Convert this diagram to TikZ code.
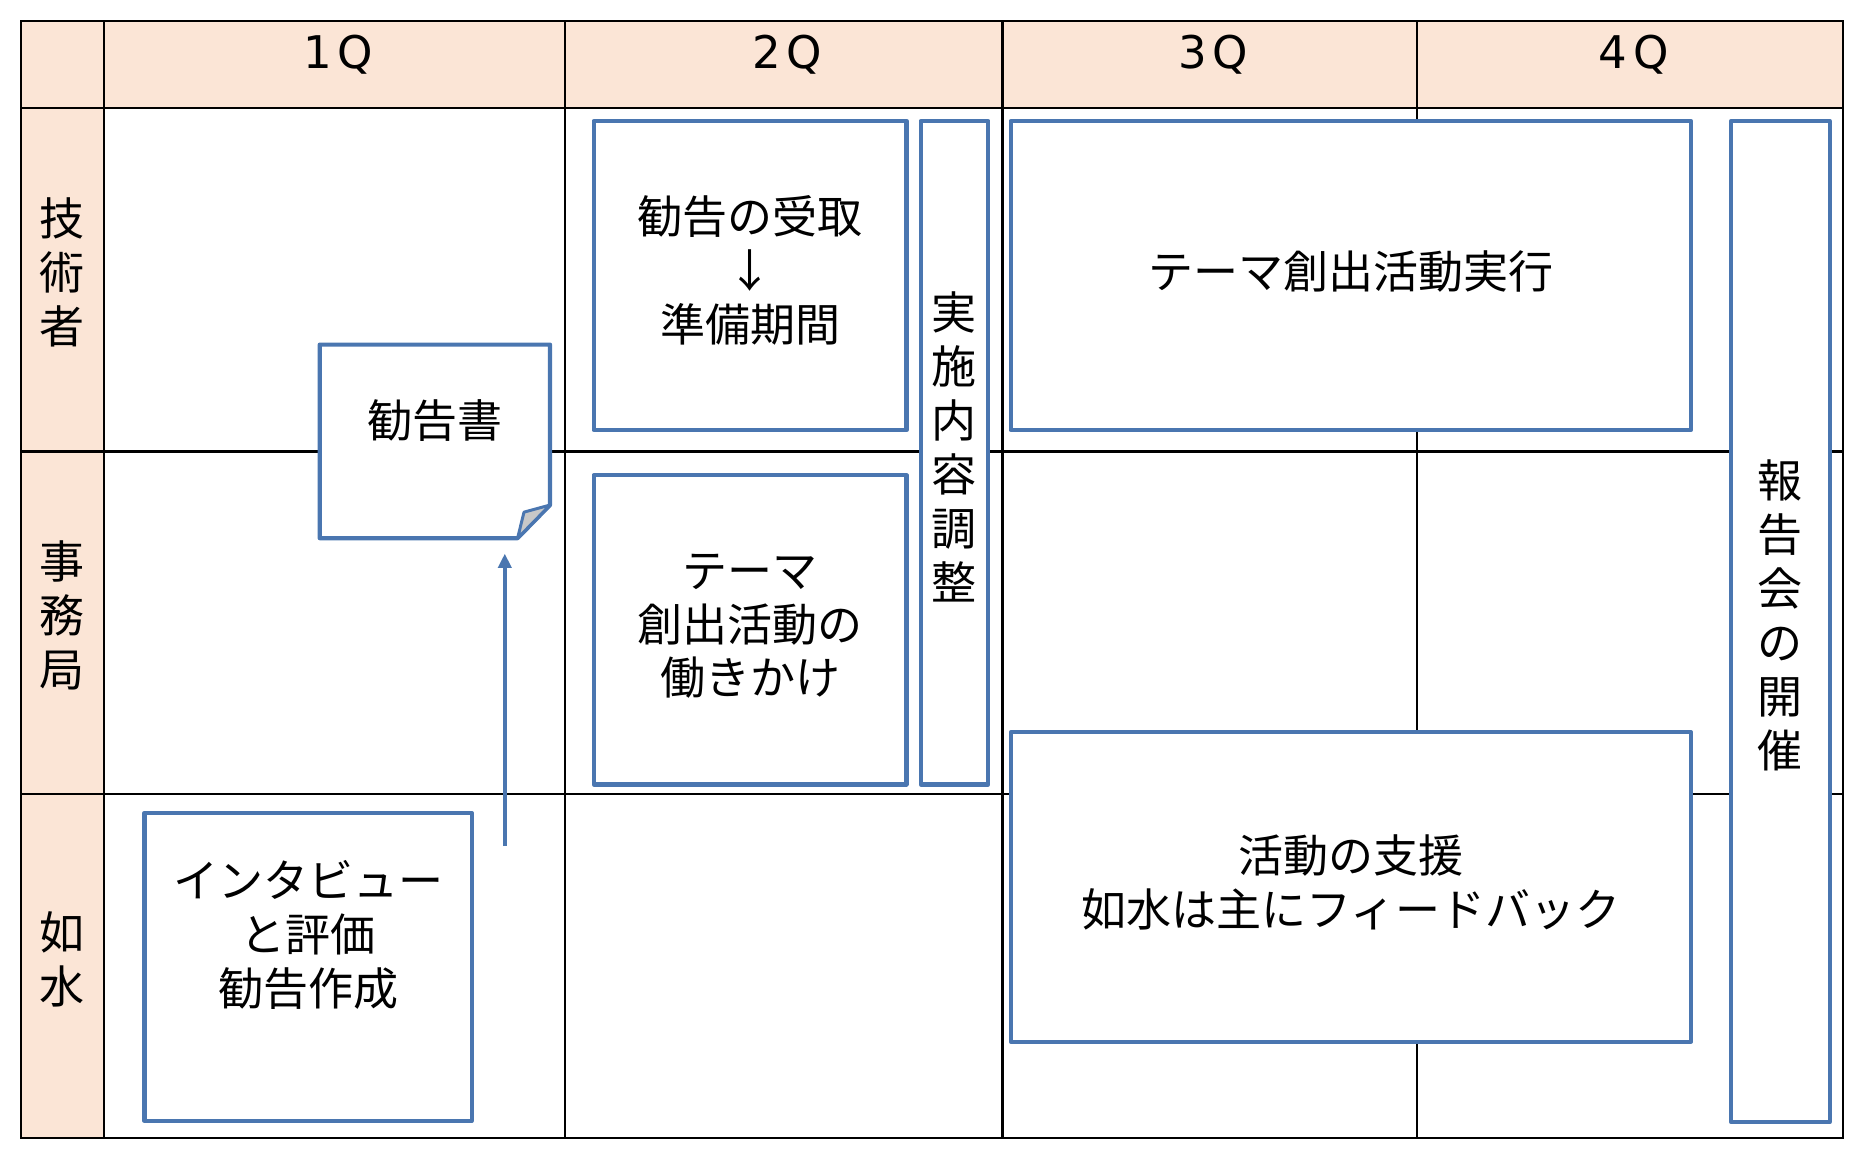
\documentclass[tikz,border=0pt]{standalone}
\usepackage{fontspec}
\setmainfont{Noto Sans CJK JP}
\newfontfamily\quarterfont{DejaVu Sans}
\usepackage{tikz}
\usetikzlibrary{arrows.meta}
\definecolor{headfill}{RGB}{251,229,214}
\definecolor{boxblue}{RGB}{74,118,176}
\definecolor{foldgray}{RGB}{200,200,200}
\tikzstyle{grid} = [line width=1.8pt, black]
\tikzstyle{head} = [fill=headfill]
\tikzstyle{quarter} = [font=\quarterfont\fontsize{38}{46}\selectfont, anchor=base, inner sep=0pt]
\tikzstyle{words} = [font=\fontsize{38}{45.5}\selectfont, align=center, inner sep=0pt]
\tikzstyle{box} = [draw=boxblue, fill=white, line width=3.5pt, line join=round, rectangle, inner sep=0pt]
\tikzstyle{flow} = [-{Triangle[width=11pt, length=12pt]}, draw=boxblue, line width=3.5pt]

\begin{document}
\begin{tikzpicture}[x=1pt, y=-1pt]
    \useasboundingbox (0,0) rectangle (1568,977.2);

    % Header row and column.
    \fill [head] (18,18) rectangle (1555,91);
    \fill [head] (18,91) rectangle (88,960);

    % Grid.
    \foreach\y in {91, 381, 670} {
        \draw [grid] (18,\y) -- (1555,\y);
    }
    \foreach\x in {88, 477, 846, 1196} {
        \draw [grid] (\x,18) -- (\x,960);
    }
    \draw [grid] (18,18) rectangle (1555,960);

    % Quarters.
    \foreach\q/\x in {1/285.5, 2/664.5, 3/1024, 4/1378.5} {
        \node (quarter\q) [quarter] at (\x,57.5) {\q\kern5pt Q};
    }

    % Roles.
    \node (engineer) [words] at (52,230) {技\\術\\者};
    \node (office) [words] at (52,519) {事\\務\\局};
    \node (josui) [words] at (52,809.5) {如\\水};

    % Activities.
    \node (receive) [box, minimum width=264pt, minimum height=261pt] at (633,232.5) {};
    \node (appeal) [box, minimum width=264pt, minimum height=261pt] at (633,531.5) {};
    \node (adjust) [box, minimum width=57pt, minimum height=560pt] at (805.5,382) {};
    \node (execute) [box, minimum width=574pt, minimum height=261pt] at (1140,232.5) {};
    \node (support) [box, minimum width=574pt, minimum height=261pt] at (1140,748.5) {};
    \node (report) [box, minimum width=83pt, minimum height=845pt] at (1502.5,524.5) {};
    \node (interview) [box, minimum width=276pt, minimum height=260pt] at (260,816) {};

    \node (receivetext) [words] at ([yshift=4pt]receive.center) {勧告の受取\\↓\\準備期間};
    \node (appealtext) [words] at ([yshift=3pt]appeal.center) {テーマ\\創出活動の\\働きかけ};
    \node (adjusttext) [words] at ([yshift=5pt]adjust.center) {実\\施\\内\\容\\調\\整};
    \node (executetext) [words] at ([yshift=3pt]execute.center) {テーマ創出活動実行};
    \node (supporttext) [words] at ([yshift=4pt]support.center) {活動の支援\\如水は主にフィードバック};
    \node (reporttext) [words] at ([yshift=5pt]report.center) {報\\告\\会\\の\\開\\催};
    \node (interviewtext) [words] at (260,789) {インタビュー\\と評価\\勧告作成};

    % Memo with folded corner.
    \node (memo) [minimum width=194pt, minimum height=163pt, inner sep=0pt] at (367,372.5) {};
    \draw [box] (memo.north west) -- (memo.north east) -- ([yshift=28pt]memo.south east)
        -- ([xshift=-27.4pt]memo.south east) -- (memo.south west) -- cycle;
    \draw [box, fill=foldgray, line width=2.5pt] ([yshift=28pt]memo.south east)
        -- ([xshift=-22pt, yshift=22pt]memo.south east) -- ([xshift=-27.4pt]memo.south east) -- cycle;
    \node (memotext) [words] at (367,355) {勧告書};

    % Arrow.
    \coordinate (memotail) at (426,714);
    \draw [flow, shorten >=13pt] (memotail) -- (memotail |- memo.south);
\end{tikzpicture}
\end{document}
